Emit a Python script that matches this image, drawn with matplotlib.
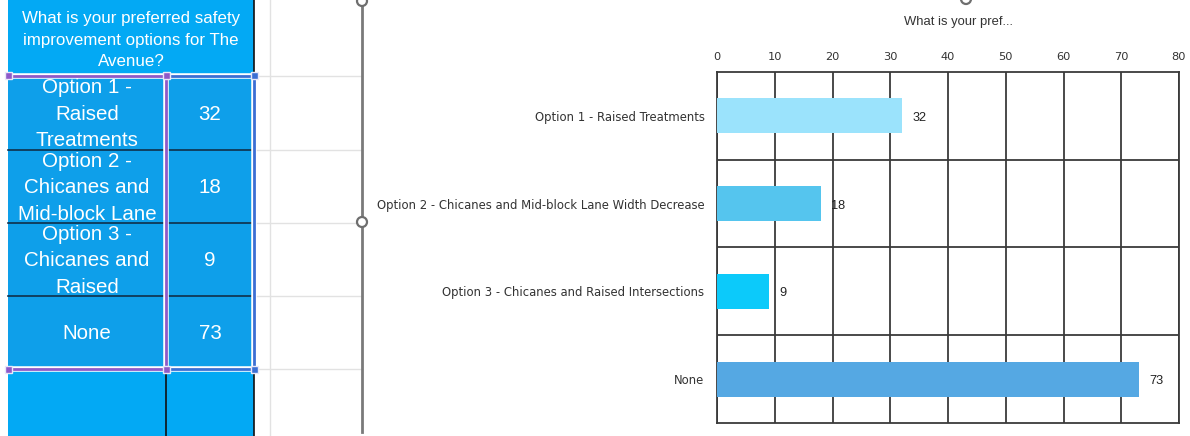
import textwrap
import matplotlib
matplotlib.use('Agg')
import matplotlib.pyplot as plt
from matplotlib.patches import Rectangle, Circle

W, H = 1190, 436
question = 'What is your preferred safety improvement options for The Avenue?'
options = ['Option 1 - Raised Treatments', 'Option 2 - Chicanes and Mid-block Lane Width Decrease',
           'Option 3 - Chicanes and Raised Intersections', 'None']
votes = [32, 18, 9, 73]
bar_colors = ['#9BE3FC', '#55C5EE', '#0CCAFA', '#55A8E3']
xticks = [0, 10, 20, 30, 40, 50, 60, 70, 80]
chart_title = 'What is your pref...'

SANS = ['Liberation Sans', 'DejaVu Sans']

fig = plt.figure(figsize=(W/100, H/100), dpi=100)
bg = fig.add_axes([0, 0, 1, 1]); bg.set_xlim(0, W); bg.set_ylim(H, 0); bg.axis('off')

# sheet grid behind
rows = [0, 76, 150, 223, 296, 369, 436]
for y in rows[1:-1]: bg.plot([254, 362], [y, y], color='#e2e2e2', lw=1, zorder=1)
bg.plot([270, 270], [0, H], color='#e2e2e2', lw=1, zorder=1)

# table cells
L, M, R = 8, 166, 254
bg.add_patch(Rectangle((L, 0), R-L, 76, fc='#03A9F4', ec='none', zorder=2))
bg.add_patch(Rectangle((L, 76), R-L, 293, fc='#0E9FEA', ec='none', zorder=2))
bg.add_patch(Rectangle((L, 369), R-L, 67, fc='#03A9F4', ec='none', zorder=2))
bg.plot([R, R], [0, H], color='#111111', lw=1.2, zorder=3)
bg.plot([M, M], [369, H], color='#111111', lw=1.2, zorder=3)
for y in rows[2:5]: bg.plot([L, R], [y, y], color='#10304a', lw=1.2, zorder=3)

hl = '\n'.join(textwrap.wrap(question, 29))
bg.text((L+R)/2, 40, hl, ha='center', va='center', color='white', fontsize=12.2, family=SANS,
        linespacing=1.5, zorder=5)
for i, (o, v) in enumerate(zip(options, votes)):
    y0, y1 = rows[i+1], rows[i+2]; cy = (y0+y1)/2 + 1
    clip = Rectangle((L, y0), M-L, y1-y0, transform=bg.transData)
    t = bg.text((L+M)/2, cy, '\n'.join(textwrap.wrap(o, 14)[:3]), ha='center', va='center',
                color='white', fontsize=14.8, family=SANS, linespacing=1.5, zorder=5)
    t.set_clip_path(clip)
    bg.text((M+R)/2, cy, str(v), ha='center', va='center', color='white', fontsize=14.8,
            family=SANS, zorder=5)

# selection outline
pur, blu = '#8E5AC8', '#3B6FD4'
for xs, ys, c in [([L, M], [76, 76], pur), ([L, M], [369, 369], pur), ([M, M], [76, 369], pur),
                  ([M, R], [76, 76], blu), ([M, R], [369, 369], blu), ([R, R], [76, 369], blu)]:
    bg.plot(xs, ys, color='white', lw=4, zorder=6, solid_capstyle='butt')
    bg.plot(xs, ys, color=c, lw=2, zorder=7, solid_capstyle='butt')
for (x, y, c) in [(L, 76, pur), (M, 76, pur), (L, 369, pur), (M, 369, pur), (R, 76, blu), (R, 369, blu)]:
    bg.add_patch(Rectangle((x-3.5, y-3.5), 7, 7, fc=c, ec='#e8e8f8', lw=1, zorder=8))

# chart frame
bg.plot([362, 362], [4, 432], color='#7a7a7a', lw=2, zorder=3)
for (x, y) in [(362, 1), (362, 222), (966, -1)]:
    bg.add_patch(Circle((x, y), 5, fc='white', ec='#6e6e6e', lw=1.6, zorder=4))
bg.text(958, 22, chart_title, ha='center', va='center', fontsize=9.4, color='#333333', family=SANS)

# bar chart
ax = fig.add_axes([717/W, 1-423/H, (1179-717)/W, (423-72)/H])
pos = list(range(len(options)))
ax.barh(pos, votes, height=0.4, color=bar_colors, zorder=3)
for p, v in zip(pos, votes):
    ax.annotate(str(v), (v, p), xytext=(7.5, -1.5), textcoords='offset points', va='center',
                fontsize=9.2, color='#222222', family=SANS)
ax.set_xlim(0, 80); ax.set_ylim(len(options)-0.5, -0.5)
ax.set_xticks(xticks); ax.set_xticklabels([str(t) for t in xticks], fontsize=8.2, color='#333333')
ax.xaxis.tick_top()
ax.set_yticks(pos); ax.set_yticklabels(options, fontsize=8.4, color='#333333')
ax.set_yticks([p+0.5 for p in pos[:-1]], minor=True)
ax.tick_params(axis='both', which='both', length=0)
ax.tick_params(axis='x', pad=7); ax.tick_params(axis='y', pad=9)
ax.grid(axis='x', color='#3a3a3a', lw=1.3, zorder=1)
ax.grid(axis='y', which='minor', color='#3a3a3a', lw=1.3, zorder=1)
for s in ax.spines.values(): s.set_color('#3a3a3a'); s.set_linewidth(1.3)

fig.savefig('out.png', dpi=100)
